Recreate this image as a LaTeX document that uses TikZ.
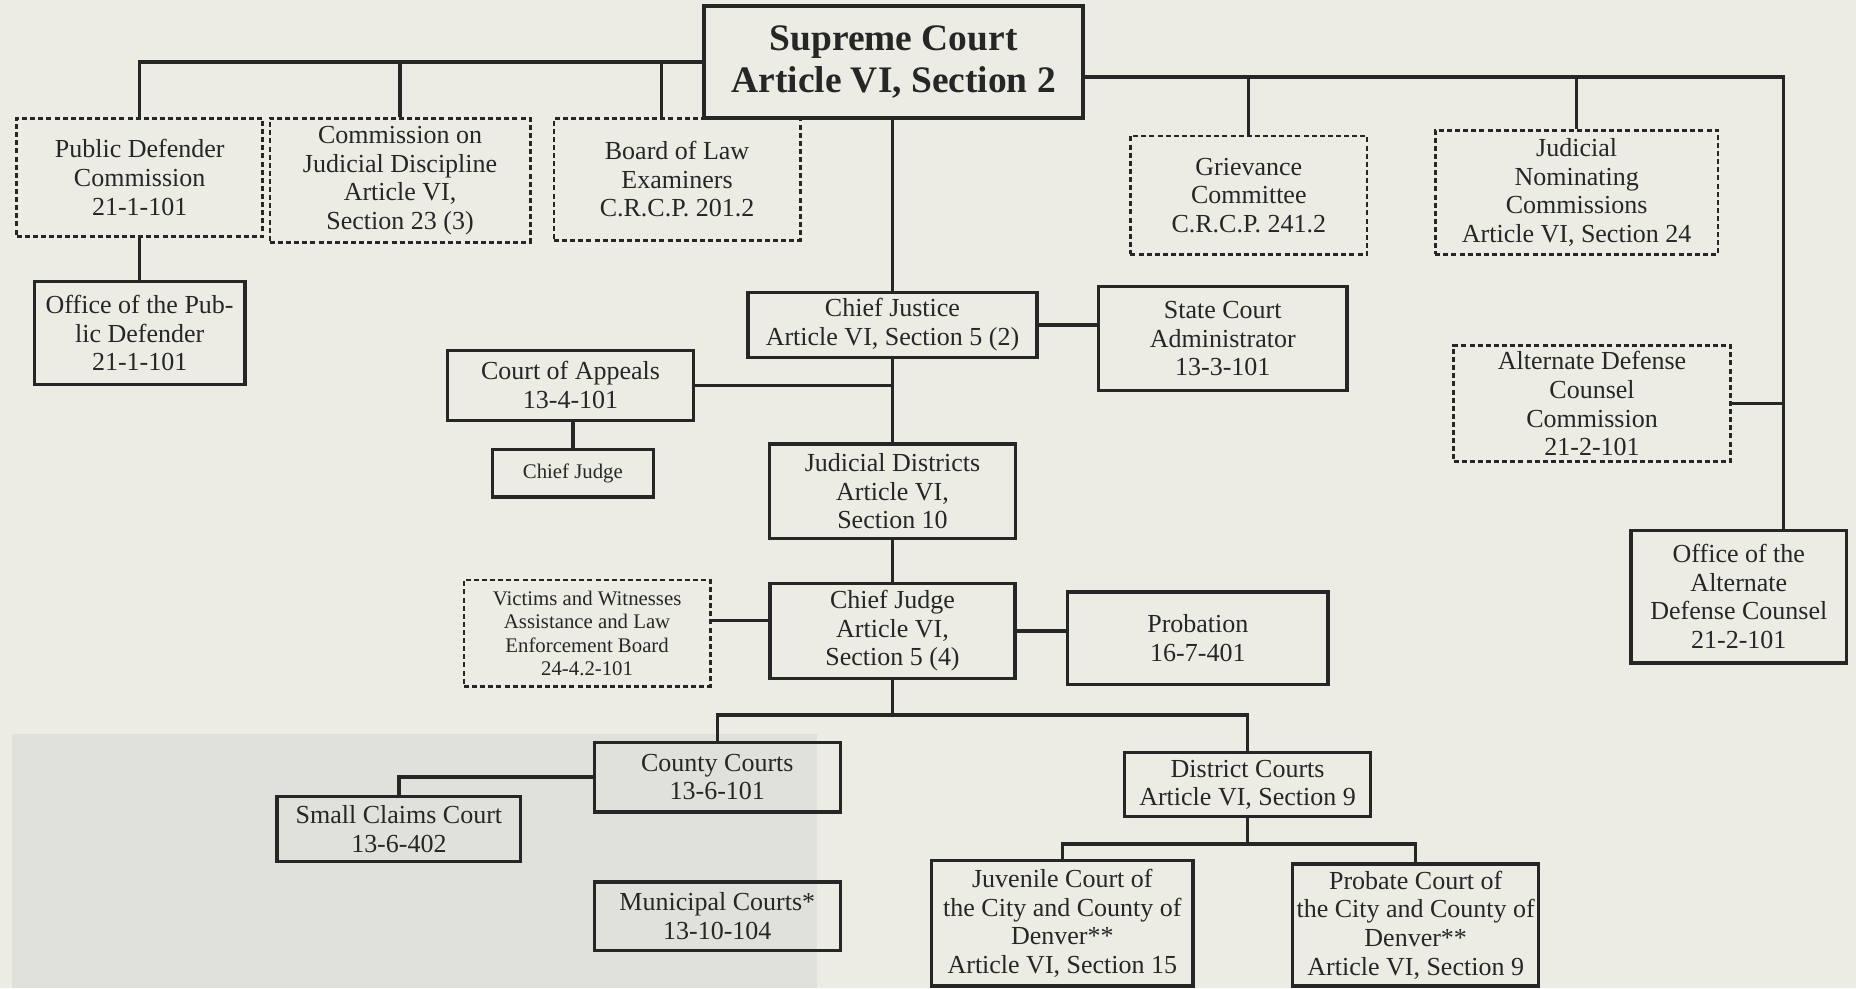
\documentclass[tikz,border=0pt]{standalone}
\usepackage{fontspec}
\setmainfont{Liberation Serif}
\usetikzlibrary{positioning,calc}

\definecolor{paper}{HTML}{ECECE5}
\definecolor{scan}{HTML}{E1E1DB}
\definecolor{ink}{HTML}{262626}

\begin{document}
\begin{tikzpicture}[x=0.02cm, y=-0.02cm,
    box/.style={draw=ink, line width=1.6pt, align=center, inner sep=0pt, text=ink,
        font=\fontsize{12.5}{13.8}\selectfont},
    dbox/.style={box, line width=1.3pt, dash pattern=on 2.4pt off 1.5pt},
    small/.style={font=\fontsize{10}{11.3}\selectfont},
    link/.style={draw=ink, line width=1.6pt}]

    % Page
    \useasboundingbox (0,0) rectangle (1568,835);
    \fill[paper] (0,0) rectangle (1568,835);
    \fill[scan] (10,620) rectangle (690,835);

    % Top: Supreme Court and the boards it oversees
    \node[box, line width=2pt, minimum width=6.4cm, minimum height=1.9cm,
        font=\bfseries\fontsize{18}{20}\selectfont] (sup) at (755,52.5)
        {Supreme Court\\Article VI, Section 2};
    \node[dbox, minimum width=4.16cm, minimum height=2.0cm] (pdc) at (118,150)
        {Public Defender\\Commission\\21-1-101};
    \node[dbox, minimum width=4.4cm, minimum height=2.1cm] (cjd) at (338,152.5)
        {Commission on\\Judicial Discipline\\Article VI,\\Section 23 (3)};
    \node[dbox, minimum width=4.16cm, minimum height=2.06cm] (ble) at (572,151.5)
        {Board of Law\\Examiners\\C.R.C.P. 201.2};
    \node[dbox, minimum width=4.0cm, minimum height=2.0cm] (grv) at (1055,165)
        {Grievance\\Committee\\C.R.C.P. 241.2};
    \node[dbox, minimum width=4.78cm, minimum height=2.1cm] (jnc) at (1332,162.5)
        {Judicial\\Nominating\\Commissions\\Article VI, Section 24};

    % Second row
    \node[box, minimum width=3.56cm, minimum height=1.74cm] (opd) at (118,281.5)
        {Office of the Pub-\\lic Defender\\21-1-101};
    \node[box, minimum width=4.88cm, minimum height=1.1cm] (cj) at (754,274.5)
        {Chief Justice\\Article VI, Section 5 (2)};
    \node[box, minimum width=4.2cm, minimum height=1.76cm] (sca) at (1033,286)
        {State Court\\Administrator\\13-3-101};
    \node[box, minimum width=4.16cm, minimum height=1.18cm] (coa) at (482,325.5)
        {Court of Appeals\\13-4-101};
    \node[box, small, minimum width=2.72cm, minimum height=0.8cm] (chj) at (484,400)
        {Chief Judge};
    \node[dbox, minimum width=4.68cm, minimum height=1.96cm] (adcc) at (1345,341)
        {Alternate Defense\\Counsel\\Commission\\21-2-101};

    % Districts
    \node[box, minimum width=4.16cm, minimum height=1.6cm] (jd) at (754,415)
        {Judicial Districts\\Article VI,\\Section 10};
    \node[box, minimum width=3.64cm, minimum height=2.24cm] (oadc) at (1469,504)
        {Office of the\\Alternate\\Defense Counsel\\21-2-101};
    \node[dbox, small, minimum width=4.16cm, minimum height=1.8cm] (vw) at (496,535)
        {Victims and Witnesses\\Assistance and Law\\Enforcement Board\\24-4.2-101};
    \node[box, minimum width=4.14cm, minimum height=1.6cm] (cj4) at (754,533)
        {Chief Judge\\Article VI,\\Section 5 (4)};
    \node[box, minimum width=4.4cm, minimum height=1.56cm] (prb) at (1012,539)
        {Probation\\16-7-401};

    % Trial courts
    \node[box, minimum width=4.16cm, minimum height=1.18cm] (cc) at (606,656.5)
        {County Courts\\13-6-101};
    \node[box, minimum width=4.12cm, minimum height=1.1cm] (scc) at (337,700.5)
        {Small Claims Court\\13-6-402};
    \node[box, minimum width=4.16cm, minimum height=1.16cm] (mun) at (606,774)
        {Municipal Courts*\\13-10-104};
    \node[box, minimum width=4.16cm, minimum height=1.08cm] (dc) at (1054,663)
        {District Courts\\Article VI, Section 9};
    \node[box, minimum width=4.42cm, minimum height=2.12cm] (juv) at (897.5,780)
        {Juvenile Court of\\the City and County of\\Denver**\\Article VI, Section 15};
    \node[box, minimum width=4.16cm, minimum height=2.06cm] (prob) at (1196,781.5)
        {Probate Court of\\the City and County of\\Denver**\\Article VI, Section 9};

    % Bus coordinates
    \coordinate (rbus) at (1507,65);
    \coordinate (lbus) at (754,604);
    \coordinate (dbus) at (1054,713);

    % Left branch of the Supreme Court
    \draw[link] (sup.west) -| (pdc.north);
    \draw[link] (cjd.north) -- (cjd.north |- sup.west);
    \draw[link] ([xshift=-0.26cm]ble.north) -- ([xshift=-0.26cm]ble.north |- sup.west);
    \draw[link] (pdc.south) -- (opd.north);

    % Right branch of the Supreme Court
    \draw[link] (sup.east |- rbus) -- (rbus) -- (oadc.north -| rbus);
    \draw[link] (grv.north) -- (grv.north |- rbus);
    \draw[link] (jnc.north) -- (jnc.north |- rbus);
    \draw[link] (adcc.east) -- (adcc.east -| rbus);

    % Main spine
    \draw[link] (sup.south -| cj.north) -- (cj.north);
    \draw[link] (cj.east) -- (cj.east -| sca.west);
    \draw[link] (cj.south) -- (jd.north);
    \draw[link] (coa.east) -- (coa.east -| cj.south);
    \draw[link] (chj.north) -- (chj.north |- coa.south);
    \draw[link] (jd.south) -- (cj4.north);
    \draw[link] (vw.6) -- (vw.6 -| cj4.west);
    \draw[link] (cj4.east) -- (cj4.east -| prb.west);

    % Trial courts
    \draw[link] (cj4.south) -- (lbus);
    \draw[link] (cc.north) |- (dc.north |- lbus) -- (dc.north);
    \draw[link] (cc.west) -| (scc.north);
    \draw[link] (dc.south) -- (dbus);
    \draw[link] (juv.north) |- (prob.north |- dbus) -- (prob.north);
\end{tikzpicture}
\end{document}
